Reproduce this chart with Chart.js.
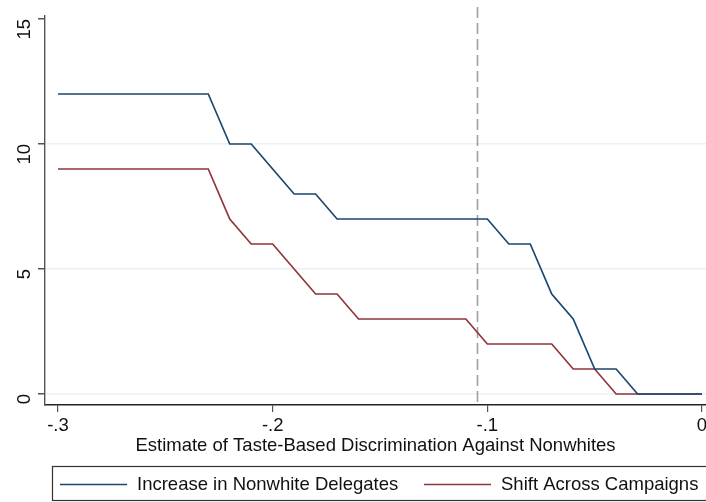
<!DOCTYPE html>
<html>
<head>
<meta charset="utf-8">
<script src="https://cdn.jsdelivr.net/npm/chart.js@4.4.0/dist/chart.umd.min.js"></script>
<style>
  html, body { margin: 0; padding: 0; background: #fff; }
  #wrap { width: 706px; height: 502px; }
</style>
</head>
<body>
<div id="wrap"><canvas id="chart" width="706" height="502"></canvas></div>
<script>
// discrimination estimate (x) and the two outcomes
var taste = [-0.30, -0.29, -0.28, -0.27, -0.26, -0.25, -0.24, -0.23, -0.22, -0.21, -0.20,
             -0.19, -0.18, -0.17, -0.16, -0.15, -0.14, -0.13, -0.12, -0.11, -0.10,
             -0.09, -0.08, -0.07, -0.06, -0.05, -0.04, -0.03, -0.02, -0.01, 0.00];
var nonwhiteDelegates = [12, 12, 12, 12, 12, 12, 12, 12, 10, 10, 9,
                         8, 8, 7, 7, 7, 7, 7, 7, 7, 7,
                         6, 6, 4, 3, 1, 1, 0, 0, 0, 0];
var campaignShift = [9, 9, 9, 9, 9, 9, 9, 9, 7, 6, 6,
                     5, 4, 4, 3, 3, 3, 3, 3, 3, 2,
                     2, 2, 2, 1, 1, 0, 0, 0, 0, 0];
var xTicks = [-0.3, -0.2, -0.1, 0];
var xTickLabels = ['-.3', '-.2', '-.1', '0'];
var yTicks = [0, 5, 10, 15];
var cutoff = -0.105;

var FONT = 'Liberation Sans, Arial, Helvetica, sans-serif';

function pts(ys) {
    return taste.map(function (x, i) { return { x: x, y: ys[i] }; });
}

// dashed vertical reference line + boxed legend (Stata style)
var extras = {
    id: 'extras',
    beforeDatasetsDraw: function (chart) {
        var ctx = chart.ctx, a = chart.chartArea;
        var px = Math.round(chart.scales.x.getPixelForValue(cutoff)) + 0.5;
        ctx.save();
        ctx.strokeStyle = '#a0a0a0';
        ctx.lineWidth = 1.6;
        ctx.setLineDash([11, 5]);
        ctx.beginPath();
        ctx.moveTo(px, 7);
        ctx.lineTo(px, a.bottom);
        ctx.stroke();
        ctx.restore();
    },
    afterDraw: function (chart) {
        var ctx = chart.ctx;
        var top = 466, bottom = 500, mid = 484;
        ctx.save();
        ctx.strokeStyle = '#333';
        ctx.lineWidth = 1.2;
        ctx.strokeRect(52.5, top + 0.5, 660, bottom - top);
        var starts = [60, 424];
        chart.data.datasets.forEach(function (d, i) {
            var x0 = starts[i];
            ctx.strokeStyle = d.borderColor;
            ctx.lineWidth = 1.6;
            ctx.beginPath();
            ctx.moveTo(x0, mid + 0.5);
            ctx.lineTo(x0 + 67, mid + 0.5);
            ctx.stroke();
            ctx.fillStyle = '#111';
            ctx.font = '18.5px ' + FONT;
            ctx.textBaseline = 'middle';
            ctx.textAlign = 'left';
            ctx.fillText(d.label, x0 + 77, mid + 1);
        });
        ctx.restore();
    }
};

var ctx = document.getElementById('chart').getContext('2d');
var chart = new Chart(ctx, {
    type: 'line',
    data: {
        datasets: [{
            label: 'Increase in Nonwhite Delegates',
            data: pts(nonwhiteDelegates),
            borderColor: '#1a476f',
            borderWidth: 1.7,
            pointRadius: 0,
            fill: false
        }, {
            label: 'Shift Across Campaigns',
            data: pts(campaignShift),
            borderColor: '#90353b',
            borderWidth: 1.7,
            pointRadius: 0,
            fill: false
        }]
    },
    options: {
        responsive: false,
        animation: false,
        layout: { padding: { top: 16, right: 0, bottom: 36, left: 0 } },
        plugins: {
            tooltip: { enabled: false },
            legend: { display: false }
        },
        scales: {
            x: {
                type: 'linear',
                min: -0.30606,
                max: 0.00186,
                afterBuildTicks: function (s) { s.ticks = xTicks.map(function (v) { return { value: v }; }); },
                afterFit: function (s) { s.height = 61; s.paddingLeft = 0; s.paddingRight = 0; },
                ticks: {
                    color: '#111',
                    font: { family: FONT, size: 18.5 },
                    maxRotation: 0,
                    padding: 3,
                    callback: function (v) { return xTickLabels[xTicks.indexOf(v)]; }
                },
                grid: { drawOnChartArea: false, drawTicks: true, tickLength: 7, tickColor: '#555', lineWidth: 1.2 },
                border: { color: '#222', width: 1.4 },
                title: {
                    display: true,
                    text: 'Estimate of Taste-Based Discrimination Against Nonwhites',
                    color: '#111',
                    font: { family: FONT, size: 18.5 },
                    padding: { top: 0, bottom: 9 }
                }
            },
            y: {
                min: -0.44,
                max: 15.12,
                afterBuildTicks: function (s) { s.ticks = yTicks.map(function (v) { return { value: v }; }); },
                afterFit: function (s) { s.width = 45; s.paddingTop = 0; s.paddingBottom = 0; },
                ticks: {
                    color: '#111',
                    font: { family: FONT, size: 18.5 },
                    minRotation: 90,
                    maxRotation: 90,
                    padding: 13
                },
                grid: {
                    color: function (c) { return c.tick && c.tick.value === 15 ? 'rgba(0,0,0,0)' : '#eaf2f3'; },
                    lineWidth: 1.5,
                    tickLength: 7,
                    tickColor: '#555'
                },
                border: { color: '#555', width: 1.4 }
            }
        }
    },
    plugins: [extras]
});
</script>
</body>
</html>
